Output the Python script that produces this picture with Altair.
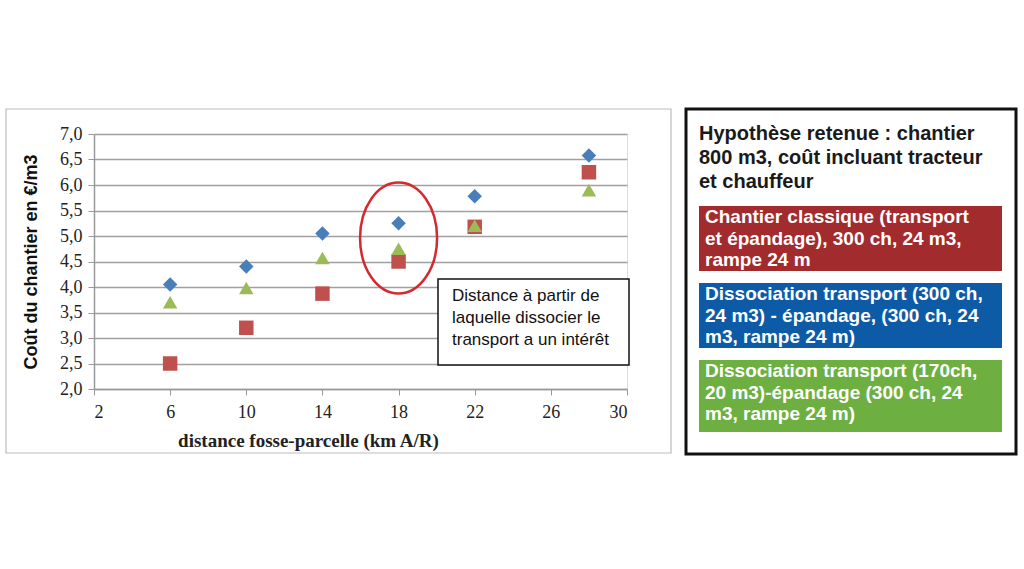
import altair as alt
import pandas as pd

# ---- data ----
distances = [6, 10, 14, 18, 22, 28]
series_names = [
    "Chantier classique",
    "Dissociation transport 300 ch",
    "Dissociation transport 170 ch",
]
cost_classique = [2.5, 3.2, 3.87, 4.5, 5.18, 6.25]
cost_dissoc_300 = [4.05, 4.4, 5.05, 5.25, 5.78, 6.58]
cost_dissoc_170 = [3.7, 3.98, 4.57, 4.75, 5.2, 5.9]
series_colors = ["#C0504D", "#4A7EBB", "#9BBB59"]
series_shapes = ["square", "diamond", "triangle-up"]
x_ticks = [2, 6, 10, 14, 18, 22, 26, 30]
y_ticks = [2.0, 2.5, 3.0, 3.5, 4.0, 4.5, 5.0, 5.5, 6.0, 6.5, 7.0]

highlight_x = [18]
highlight_y = [4.96]

note_text = "Distance à partir de\nlaquelle dissocier le\ntransport a un intérêt"
panel_title = "Hypothèse retenue : chantier\n800 m3, coût incluant tracteur\net chauffeur"
legend_texts = [
    "Chantier classique (transport\net épandage), 300 ch, 24 m3,\nrampe 24 m",
    "Dissociation transport (300 ch,\n24 m3) - épandage, (300 ch, 24\nm3, rampe 24 m)",
    "Dissociation transport (170ch,\n20 m3)-épandage (300 ch, 24\nm3, rampe 24 m)",
]
legend_colors = ["#A22B2D", "#0D5AA7", "#6DB041"]

rows = []
for name, vals in zip(series_names, [cost_classique, cost_dissoc_300, cost_dissoc_170]):
    for d, v in zip(distances, vals):
        rows.append({"distance": d, "cout": v, "serie": name})
df = pd.DataFrame(rows)
ell_df = pd.DataFrame({"distance": highlight_x, "cout": highlight_y})

W, H = 533, 255
one = pd.DataFrame({"a": [0]})

xs = alt.X("distance:Q", scale=alt.Scale(domain=[2, 30], nice=False),
           axis=alt.Axis(values=x_ticks, grid=False, title="distance fosse-parcelle (km A/R)",
                         labelFont="Liberation Serif", labelFontSize=18, labelColor="#222",
                         titleFont="Liberation Serif", titleFontSize=19, titleColor="#222",
                         titleFontWeight="bold", domainColor="#999", domainWidth=1.5,
                         tickColor="#999", tickSize=6, labelPadding=8, titlePadding=10,
                         titleX=214, labelOverlap=False))
ys = alt.Y("cout:Q", scale=alt.Scale(domain=[2, 7], nice=False),
           axis=alt.Axis(values=y_ticks, title="Coût du chantier en  €/m3",
                         labelExpr="replace(format(datum.value, '.1f'), '.', ',')",
                         labelFont="Liberation Serif", labelFontSize=18, labelColor="#222",
                         titleFont="Liberation Sans", titleFontSize=18, titleFontWeight="bold",
                         titleColor="#111", domainColor="#999", domainWidth=1.5,
                         tickColor="#999", tickSize=6, labelPadding=6, titlePadding=19,
                         gridColor="#a0a0a0", gridWidth=1.5, labelOverlap=False))

frame = alt.Chart(one).mark_rect(filled=False, stroke="#bbbbbb", strokeWidth=1.2).encode(
    x=alt.value(-88), x2=alt.value(577), y=alt.value(-25), y2=alt.value(319))

points = alt.Chart(df).mark_point(filled=True, size=210, opacity=1).encode(
    x=xs, y=ys,
    color=alt.Color("serie:N", scale=alt.Scale(domain=series_names, range=series_colors), legend=None),
    shape=alt.Shape("serie:N", scale=alt.Scale(domain=series_names, range=series_shapes), legend=None),
)

ellipse = alt.Chart(ell_df).mark_point(
    shape="M 0 -1 A 0.694 1 0 1 1 0 1 A 0.694 1 0 1 1 0 -1 Z",
    size=12321, filled=False, stroke="#D42A2F", strokeWidth=2.5, opacity=1,
).encode(x=xs, y=ys)

note_box = alt.Chart(one).mark_rect(fill="white", stroke="#111", strokeWidth=1.5).encode(
    x=alt.value(344), x2=alt.value(535), y=alt.value(145), y2=alt.value(231))
note = alt.Chart(one).mark_text(
    text=note_text, lineBreak="\n", lineHeight=22, align="left", baseline="top",
    font="Liberation Sans", fontSize=17, color="#111",
).encode(x=alt.value(358), y=alt.value(154))

panel_box = alt.Chart(one).mark_rect(fill="white", stroke="#111", strokeWidth=3).encode(
    x=alt.value(592), x2=alt.value(922), y=alt.value(-25), y2=alt.value(320))
title_txt = alt.Chart(one).mark_text(
    text=panel_title, lineBreak="\n", lineHeight=24, align="left", baseline="top",
    font="Liberation Sans", fontSize=20, fontWeight="bold", color="#1a1a1a",
).encode(x=alt.value(605), y=alt.value(-10))

layers = [frame, points, ellipse, note_box, note, panel_box, title_txt]
tops = [72, 149, 226]
bottoms = [137, 214, 298]
for txt, col, t, b in zip(legend_texts, legend_colors, tops, bottoms):
    layers.append(alt.Chart(one).mark_rect(fill=col).encode(
        x=alt.value(605), x2=alt.value(908), y=alt.value(t), y2=alt.value(b)))
    layers.append(alt.Chart(one).mark_text(
        text=txt, lineBreak="\n", lineHeight=21.5, align="left", baseline="top",
        font="Liberation Sans", fontSize=19, fontWeight="bold", color="white",
    ).encode(x=alt.value(611), y=alt.value(t + 2)))

chart = alt.layer(*layers).properties(
    width=W, height=H,
    autosize=alt.AutoSizeParams(type="none"),
    padding={"left": 94, "top": 134, "right": 1024 - 94 - W, "bottom": 569 - 134 - H},
).configure_view(stroke=None).configure(background="white")

chart.save("out.html", embed_options={"renderer": "svg", "actions": False})
